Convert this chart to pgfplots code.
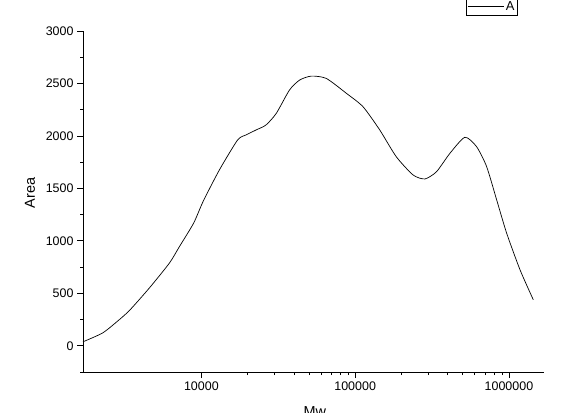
\documentclass[border=0pt]{standalone}
\usepackage{pgfplots}
\pgfplotsset{compat=1.18}
\usepackage{fontspec}
\setmainfont{Liberation Sans}
\begin{document}
\begin{tikzpicture}
\path[use as bounding box] (0,0) rectangle (584bp,413bp);
\begin{axis}[
  at={(83bp,41bp)}, anchor=south west,
  scale only axis, width=461bp, height=341bp,
  xmode=log, xmin=1700, xmax=1.69e6,
  ymin=-250, ymax=3000,
  axis x line=bottom, axis y line=left,
  axis line style={-, line width=0.8bp},
  tick align=outside,
  major tick length=6bp, minor tick length=3bp,
  tick style={black, line width=0.7bp},
  xtick={1e4,1e5,1e6}, xticklabels={10000,100000,1000000},
  ytick={0,500,1000,1500,2000,2500,3000},
  minor ytick={-250,250,750,1250,1750,2250,2750},
  /pgf/number format/assume math mode=true,
  /pgf/number format/set thousands separator={},
  ticklabel style={font=\fontsize{12.5}{14}\selectfont},
  xlabel={Mw}, ylabel={Area},
  label style={font=\fontsize{14.5}{16}\selectfont},
  xlabel style={at={(axis description cs:0.503,-0.115)}, anchor=center},
  ylabel style={at={(axis description cs:-0.115,0.525)}, anchor=center, rotate=0},
  legend style={at={(axis description cs:0.9436,1.044)}, anchor=south east,
    draw=black, line width=0.8bp, inner xsep=1bp, inner ysep=2bp,
    font=\fontsize{13}{15}\selectfont},
  legend image code/.code={\draw[line width=0.7bp] (-2bp,0bp) -- (34bp,0bp);},
  clip=false,
]
\addplot[black, line width=0.7bp, smooth, tension=0.4] coordinates {
(1700,38) (2275,121) (2800,225) (3400,335) (4580,549) (6190,787) (7200,945)
(8900,1168) (10300,1380) (13100,1676) (17200,1961) (19500,2009) (22700,2057) (26300,2104)
(30700,2215) (37400,2437) (43500,2532) (51800,2570) (64900,2548) (87700,2406)
(112500,2278) (144600,2056) (185000,1802) (238000,1628) (284000,1590)
(338000,1659) (413000,1834) (517000,1987) (616000,1897) (716000,1707)
(832000,1390) (966000,1073) (1180000,724) (1440000,438)
};
\addlegendentry{A}
\end{axis}
\end{tikzpicture}
\end{document}
